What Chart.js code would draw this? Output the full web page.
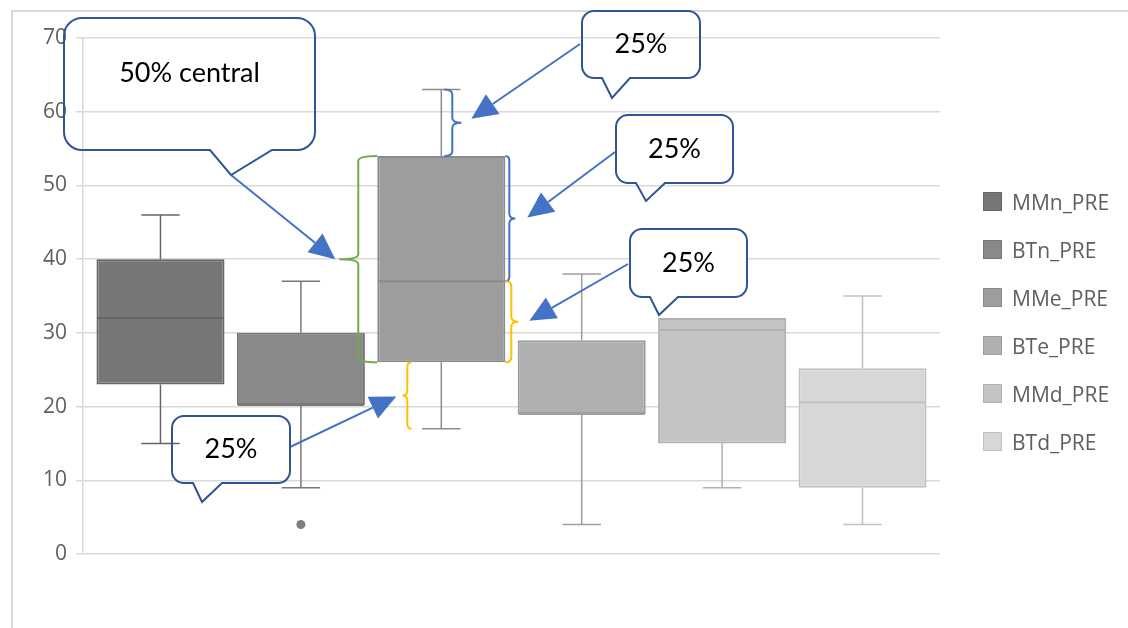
<!DOCTYPE html>
<html>
<head>
<meta charset="utf-8">
<script src="https://cdn.jsdelivr.net/npm/chart.js@4/dist/chart.umd.min.js"></script>
<style>
  html, body { margin: 0; padding: 0; background: #fff; }
  #wrap { position: relative; width: 1128px; height: 628px; overflow: hidden; }
  #legend { position: absolute; left: 983px; top: 192px; margin: 0; padding: 0; list-style: none; }
  #legend li { display: flex; align-items: center; height: 19px; margin-bottom: 29px;
    font: 21px 'Open Sans', sans-serif; color: #5f5f5f; white-space: nowrap; }
  #legend li span { display: inline-block; width: 19px; height: 19px; box-sizing: border-box;
    border: 1px solid; margin-right: 10px; }
</style>
</head>
<body>
<div id="wrap">
  <canvas id="boxChart" width="1128" height="628"></canvas>
  <ul id="legend"></ul>
</div>
<script>
// five-number summaries per series
const seriesNames = ['MMn_PRE', 'BTn_PRE', 'MMe_PRE', 'BTe_PRE', 'MMd_PRE', 'BTd_PRE'];
const minVals = [15, 9, 17, 4, 9, 4];
const q1Vals  = [23, 20.2, 26, 19, 15, 9];
const medVals = [32, 20.2, 37, 19, 30.4, 20.6];
const q3Vals  = [40, 30, 54, 29, 32, 25.2];
const maxVals = [46, 37, 63, 38, 32, 35];
const outlierVals = [[], [4], [], [], [], []];

const fills   = ['#767676', '#898989', '#9d9d9d', '#b0b0b0', '#c4c4c4', '#d7d7d7'];
const borders = ['#666666', '#787878', '#8b8b8b', '#9e9e9e', '#b0b0b0', '#c1c1c1'];

// which box the quartile braces sit on
const focus = 2;

// callout shapes (canvas px)
const callouts = [
  { text: '50% central', x: 64, y: 18, w: 251, h: 132, r: 18, tail: [210, 272], tip: [231, 175], textY: 73 },
  { text: '25%', x: 582, y: 11, w: 118, h: 67, r: 12, tail: [602, 630], tip: [612, 98] },
  { text: '25%', x: 616, y: 115, w: 117, h: 68, r: 12, tail: [636, 665], tip: [646, 201] },
  { text: '25%', x: 630, y: 229, w: 117, h: 68, r: 12, tail: [650, 678], tip: [659, 315], fill: true },
  { text: '25%', x: 172, y: 416, w: 118, h: 67, r: 12, tail: [193, 222], tip: [202, 502] }
];
// arrow start points, one per callout, and offsets of the arrow tip from its brace tip
const arrowFrom = [[231, 175], [580, 44], [615, 152], [628, 264], [290, 447]];
const arrowGap  = [[-4, 0], [10, -4], [12, -1], [11, -1], [-6, 1]];

const frame = {
  id: 'frame',
  beforeDraw(chart) {
    const ctx = chart.ctx;
    ctx.save();
    ctx.strokeStyle = '#d9d9d9';
    ctx.lineWidth = 2;
    ctx.beginPath();
    ctx.moveTo(12, 628); ctx.lineTo(12, 11); ctx.lineTo(1128, 11);
    ctx.stroke();
    ctx.restore();
  }
};

const boxPlot = {
  id: 'boxPlot',
  afterDatasetsDraw(chart) {
    const { ctx, scales: { y } } = chart;
    chart.data.datasets.forEach((ds, i) => {
      const bar = chart.getDatasetMeta(i).data[0];
      const x = bar.x, half = bar.width / 2, cap = bar.width * 0.15;
      const py = v => y.getPixelForValue(v);
      ctx.save();
      ctx.strokeStyle = borders[i];
      ctx.lineWidth = 1.5;
      ctx.beginPath();
      if (maxVals[i] > q3Vals[i]) {
        ctx.moveTo(x, py(q3Vals[i])); ctx.lineTo(x, py(maxVals[i]));
        ctx.moveTo(x - cap, py(maxVals[i])); ctx.lineTo(x + cap, py(maxVals[i]));
      }
      if (minVals[i] < q1Vals[i]) {
        ctx.moveTo(x, py(q1Vals[i])); ctx.lineTo(x, py(minVals[i]));
        ctx.moveTo(x - cap, py(minVals[i])); ctx.lineTo(x + cap, py(minVals[i]));
      }
      ctx.stroke();
      ctx.lineWidth = 2;
      ctx.beginPath();
      ctx.moveTo(x - half + 1, py(medVals[i])); ctx.lineTo(x + half - 1, py(medVals[i]));
      ctx.stroke();
      ctx.fillStyle = '#7f7f7f';
      outlierVals[i].forEach(v => {
        ctx.beginPath();
        ctx.arc(x, py(v), 4.5, 0, Math.PI * 2);
        ctx.fill();
      });
      ctx.restore();
    });
  }
};

function brace(ctx, x, y1, y2, dir, capW, tipW, color) {
  const ym = (y1 + y2) / 2, r = Math.min(5, Math.abs(y2 - y1) / 4);
  ctx.strokeStyle = color;
  ctx.lineWidth = 2;
  ctx.beginPath();
  ctx.moveTo(x - dir * capW, y1);
  ctx.quadraticCurveTo(x, y1, x, y1 + r);
  ctx.lineTo(x, ym - r);
  ctx.quadraticCurveTo(x, ym, x + dir * tipW, ym);
  ctx.quadraticCurveTo(x, ym, x, ym + r);
  ctx.lineTo(x, y2 - r);
  ctx.quadraticCurveTo(x, y2, x - dir * capW, y2);
  ctx.stroke();
  return [x + dir * tipW, ym];
}

function arrow(ctx, from, to) {
  const ang = Math.atan2(to[1] - from[1], to[0] - from[0]);
  const len = 26, hw = 12;
  const bx = to[0] - Math.cos(ang) * len, by = to[1] - Math.sin(ang) * len;
  ctx.strokeStyle = '#4472c4';
  ctx.fillStyle = '#4472c4';
  ctx.lineWidth = 2;
  ctx.beginPath();
  ctx.moveTo(from[0], from[1]);
  ctx.lineTo(bx, by);
  ctx.stroke();
  ctx.beginPath();
  ctx.moveTo(to[0], to[1]);
  ctx.lineTo(bx + Math.sin(ang) * hw, by - Math.cos(ang) * hw);
  ctx.lineTo(bx - Math.sin(ang) * hw, by + Math.cos(ang) * hw);
  ctx.closePath();
  ctx.fill();
}

function callout(ctx, c) {
  const { x, y, w, h, r } = c;
  ctx.beginPath();
  ctx.moveTo(x + r, y);
  ctx.lineTo(x + w - r, y);
  ctx.arcTo(x + w, y, x + w, y + r, r);
  ctx.lineTo(x + w, y + h - r);
  ctx.arcTo(x + w, y + h, x + w - r, y + h, r);
  ctx.lineTo(c.tail[1], y + h);
  ctx.lineTo(c.tip[0], c.tip[1]);
  ctx.lineTo(c.tail[0], y + h);
  ctx.lineTo(x + r, y + h);
  ctx.arcTo(x, y + h, x, y + h - r, r);
  ctx.lineTo(x, y + r);
  ctx.arcTo(x, y, x + r, y, r);
  ctx.closePath();
  if (c.fill) { ctx.fillStyle = '#fff'; ctx.fill(); }
  ctx.strokeStyle = '#2f5597';
  ctx.lineWidth = 2;
  ctx.stroke();
  ctx.fillStyle = '#000';
  ctx.font = '27px Lato, sans-serif';
  ctx.textAlign = 'center';
  ctx.textBaseline = 'middle';
  ctx.fillText(c.text, x + w / 2, c.textY || (y + h / 2));
}

const annotations = {
  id: 'annotations',
  afterDraw(chart) {
    const { ctx, scales: { y } } = chart;
    const bar = chart.getDatasetMeta(focus).data[0];
    const left = bar.x - bar.width / 2, right = bar.x + bar.width / 2;
    const py = v => y.getPixelForValue(v);
    ctx.save();
    const tips = [
      brace(ctx, left - 19, py(q3Vals[focus]), py(q1Vals[focus]), -1, 19, 19, '#70ad47'),
      brace(ctx, bar.x + 11, py(maxVals[focus]), py(q3Vals[focus]), 1, 8, 9, '#4472c4'),
      brace(ctx, right + 4, py(q3Vals[focus]), py(medVals[focus]), 1, 4, 6, '#4472c4'),
      brace(ctx, right + 6, py(medVals[focus]), py(q1Vals[focus]), 1, 6, 7, '#ffc000'),
      brace(ctx, bar.x - 34, py(q1Vals[focus]), py(minVals[focus]), -1, 4, 5, '#ffc000')
    ];
    tips.forEach((t, k) => arrow(ctx, arrowFrom[k], [t[0] + arrowGap[k][0], t[1] + arrowGap[k][1]]));
    callouts.forEach(c => callout(ctx, c));
    ctx.restore();
  }
};

const chart = new Chart(document.getElementById('boxChart'), {
  type: 'bar',
  data: {
    labels: [''],
    datasets: seriesNames.map((name, i) => ({
      label: name,
      data: [[q1Vals[i], q3Vals[i]]],
      backgroundColor: fills[i],
      borderColor: borders[i],
      borderWidth: 2,
      borderSkipped: false,
      categoryPercentage: 0.983,
      barPercentage: 0.912
    }))
  },
  options: {
    responsive: false,
    animation: false,
    layout: { padding: { top: 38, bottom: 74, left: 0, right: 188 } },
    plugins: { legend: { display: false }, tooltip: { enabled: false } },
    scales: {
      x: { display: false },
      y: {
        min: 0, max: 70,
        afterFit: s => { s.width = 83; },
        ticks: { stepSize: 10, padding: 9, color: '#5f5f5f', font: { family: "'Open Sans', sans-serif", size: 21 } },
        grid: { color: '#d9d9d9', lineWidth: 1.5, tickLength: 7 },
        border: { display: true, color: '#d9d9d9', width: 1.5 }
      }
    }
  },
  plugins: [frame, boxPlot, annotations]
});

// html legend from the chart's own legend items
const items = chart.options.plugins.legend.labels.generateLabels(chart);
document.getElementById('legend').innerHTML = items.map(it =>
  `<li><span style="background:${it.fillStyle};border-color:${it.strokeStyle}"></span>${it.text}</li>`
).join('');
</script>
</body>
</html>
